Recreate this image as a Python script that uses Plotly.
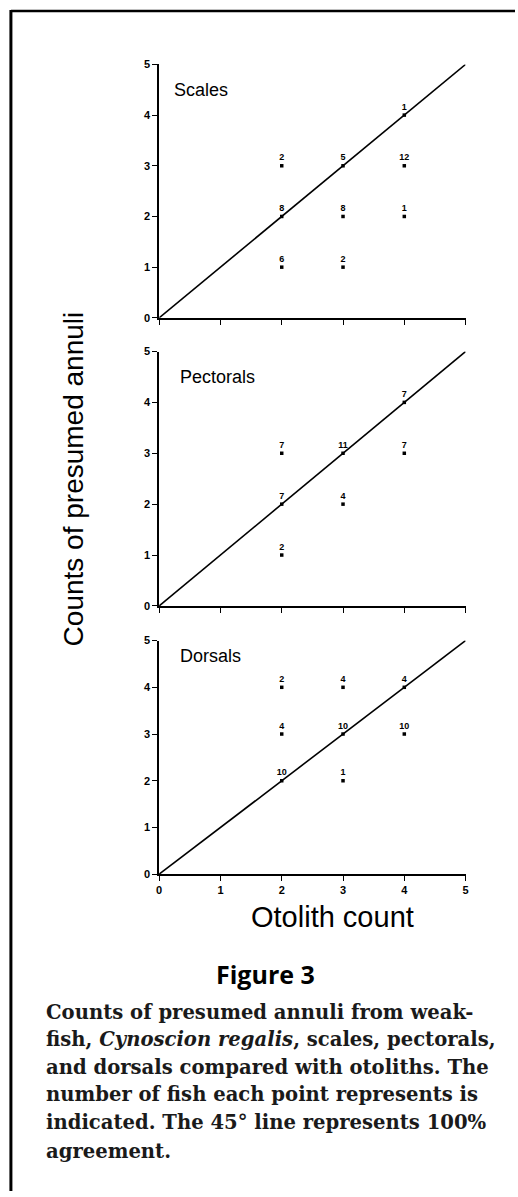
import plotly.graph_objects as go

# ---- data ----
panel_names = ["Scales", "Pectorals", "Dorsals"]

scales_x = [2, 2, 2, 3, 3, 3, 4, 4, 4]
scales_y = [3, 2, 1, 3, 2, 1, 4, 3, 2]
scales_n = [2, 8, 6, 5, 8, 2, 1, 12, 1]

pect_x = [2, 2, 2, 3, 3, 4, 4]
pect_y = [3, 2, 1, 3, 2, 4, 3]
pect_n = [7, 7, 2, 11, 4, 7, 7]

dors_x = [2, 2, 2, 3, 3, 3, 4, 4]
dors_y = [4, 3, 2, 4, 3, 2, 4, 3]
dors_n = [2, 4, 10, 4, 10, 1, 4, 10]

line_x = [0, 5]
line_y = [0, 5]

tick_vals = [0, 1, 2, 3, 4, 5]
tick_text = ["0", "1", "2", "3", "4", "5"]

caption_lines = [
    "Counts of presumed annuli from weak-",
    "fish, <i>Cynoscion regalis</i>, scales, pectorals,",
    "and dorsals compared with otoliths. The",
    "number of fish each point represents is",
    "indicated. The 45° line represents 100%",
    "agreement.",
]

# ---- layout geometry (pixels) ----
W, H = 518, 1197
X0, X1 = 158, 468
panel_px = [(59, 315), (349, 606), (641, 877)]


def py(v):
    return 1 - v / H


def px(v):
    return v / W


fig = go.Figure()
datasets = [(scales_x, scales_y, scales_n), (pect_x, pect_y, pect_n), (dors_x, dors_y, dors_n)]

for i, (xs, ys, ns) in enumerate(datasets):
    suf = "" if i == 0 else str(i + 1)
    xa, ya = "x" + suf, "y" + suf
    fig.add_trace(go.Scatter(x=line_x, y=line_y, mode="lines", xaxis=xa, yaxis=ya,
                             line=dict(color="black", width=1.6), hoverinfo="skip",
                             showlegend=False))
    fig.add_trace(go.Scatter(x=xs, y=ys, mode="markers+text", xaxis=xa, yaxis=ya,
                             text=["<b>" + str(n) + "</b>" for n in ns],
                             textposition="top center",
                             textfont=dict(family="Liberation Sans", size=9, color="black"),
                             marker=dict(symbol="square", size=3.5, color="black"),
                             showlegend=False, cliponaxis=False))
    top, bot = panel_px[i]
    common = dict(range=[0, 5], showgrid=False, zeroline=False, showline=True,
                  linecolor="black", linewidth=1.5, ticks="outside", ticklen=5,
                  tickwidth=1.3, tickcolor="black", tickvals=tick_vals,
                  ticktext=["<b>" + t + "</b>" for t in tick_text],
                  tickfont=dict(family="Liberation Sans", size=11, color="black"),
                  fixedrange=True)
    fig.update_layout(**{
        "xaxis" + suf: dict(common, domain=[px(X0), px(X1)], anchor=ya,
                            showticklabels=(i == 2)),
        "yaxis" + suf: dict(common, domain=[py(bot), py(top)], anchor=xa),
    })
    label_y = [85, 375, 657][i]
    fig.add_annotation(text=panel_names[i], xref="paper", yref="paper",
                       x=px(171 + (0 if i == 0 else 6)), y=py(label_y),
                       xanchor="left", yanchor="middle", showarrow=False,
                       font=dict(family="Liberation Sans", size=18, color="black"))

# axis titles
fig.add_annotation(text="Counts of presumed annuli", xref="paper", yref="paper",
                   x=px(71), y=py(478), textangle=-90, showarrow=False,
                   xanchor="center", yanchor="middle",
                   font=dict(family="Liberation Sans", size=28, color="black"))
fig.add_annotation(text="Otolith count", xref="paper", yref="paper",
                   x=px(333), y=py(920), showarrow=False,
                   xanchor="center", yanchor="middle",
                   font=dict(family="Liberation Sans", size=29, color="black"))
fig.add_annotation(text="<b>Figure 3</b>", xref="paper", yref="paper",
                   x=px(266), y=py(978), showarrow=False,
                   xanchor="center", yanchor="middle",
                   font=dict(family="Open Sans", size=25, color="black"))

cap_y = [1017, 1044, 1072, 1100, 1128, 1157]
for line, yy in zip(caption_lines, cap_y):
    fig.add_annotation(text="<b>" + line + "</b>", xref="paper", yref="paper",
                       x=px(41), y=py(yy), showarrow=False,
                       xanchor="left", yanchor="middle",
                       font=dict(family="DejaVu Serif", size=19.6, color="#1a1a1a"))

# frame lines (left and top)
fig.add_shape(type="line", xref="paper", yref="paper", x0=px(8), x1=px(8),
              y0=py(4), y1=0, line=dict(color="black", width=3))
fig.add_shape(type="line", xref="paper", yref="paper", x0=px(8), x1=1,
              y0=py(5), y1=py(5), line=dict(color="black", width=2.5))

fig.update_layout(width=W, height=H, margin=dict(l=0, r=0, t=0, b=0),
                  paper_bgcolor="white", plot_bgcolor="white", showlegend=False)

fig.write_html("out.html", config={"displayModeBar": False},
               post_script="document.body.style.margin='0';document.body.style.overflow='hidden';")
